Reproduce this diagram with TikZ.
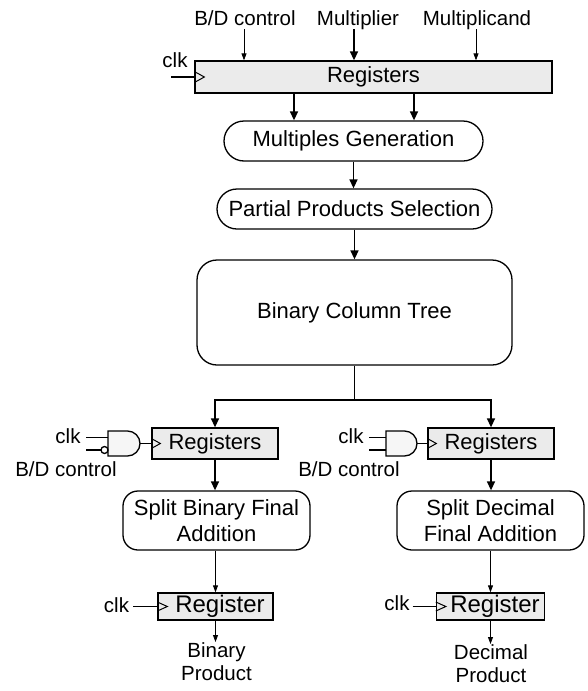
\documentclass[tikz,border=0pt]{standalone}
\usepackage{fontspec}
\setmainfont{Liberation Sans}
\usetikzlibrary{arrows.meta}
\definecolor{regfill}{HTML}{EBEBEB}
\definecolor{gatefill}{HTML}{F6F6F6}
\begin{document}
\begin{tikzpicture}[x=1pt,y=-1pt,
  font=\fontsize{22}{26}\selectfont,
  reg/.style={draw,line width=1.3pt,fill=regfill,inner sep=0pt},
  proc/.style={draw,line width=1.3pt,fill=white,inner sep=0pt,align=center},
  big/.style={line width=1.4pt,-{Triangle[length=9pt,width=8pt]}},
  small/.style={line width=0.8pt,-{Triangle[length=7pt,width=5pt]}},
  wire/.style={line width=1.3pt},
  lbl/.style={inner sep=0pt,align=center,font=\fontsize{20.5}{23}\selectfont},
  clock/.style={line width=1pt}]
\useasboundingbox (0,0) rectangle (588,691);

% ---- input stage ----
\node[lbl,anchor=base] (bdtop) at (245,25) {B/D control};
\node[lbl,anchor=base] (mplier) at (358,25) {Multiplier};
\node[lbl,anchor=base] (mcand) at (477,25) {Multiplicand};
\node[reg,minimum width=357,minimum height=32] (top) at (373.5,77) {Registers};
\node[lbl,anchor=base] (clktop) at (175,67) {clk};

\coordinate (bdin) at (244,29);
\coordinate (mpin) at (354,29);
\coordinate (mcin) at (476,29);
\coordinate (clkin) at (171,77);
\draw[small] (bdin) -- (bdin |- top.north);
\draw[big] (mpin) -- (mpin |- top.north);
\draw[small] (mcin) -- (mcin |- top.north);
\draw[wire] (clkin) -- (top.west);
\draw[clock] ([yshift=5.5]top.west) -- ([xshift=10]top.west) -- ([yshift=-5.5]top.west);

% ---- shared datapath ----
\node[proc,rounded corners=20,minimum width=259,minimum height=40] (mg) at (353.5,141) {Multiples Generation};
\node[proc,rounded corners=20,minimum width=275,minimum height=40] (pps) at (354.5,209) {Partial Products Selection};
\node[proc,rounded corners=20,minimum width=315,minimum height=105] (bct) at (354.5,312.5) {Binary Column Tree};

\draw[big] ([xshift=-79.5]top.south) -- ([xshift=-79.5]top.south |- mg.north);
\draw[big] ([xshift=40.5]top.south) -- ([xshift=40.5]top.south |- mg.north);
\draw[big] (mg.south) -- (mg.south |- pps.north);
\draw[big] (pps.south) -- (bct.north);

\coordinate (split) at (354.5,400);
\draw[wire] (bct.south) -- (split);

% ---- binary branch ----
\node[reg,minimum width=126,minimum height=31] (lreg) at (215,443.5) {Registers};
\node[proc,rounded corners=15,minimum width=187,minimum height=59] (sbfa) at (216.5,520.5) {Split Binary Final\\Addition};
\node[reg,minimum width=115,minimum height=27,font=\fontsize{24}{26}\selectfont] (lout) at (215.5,606.5) {\kern9pt Register};
\node[lbl,anchor=north] (binprod) at (216.5,642) {Binary\\Product};
\node[lbl,anchor=base] (lclk) at (68,443) {clk};
\node[lbl,anchor=base] (lbd) at (66,476) {B/D control};
\node[lbl,anchor=base] (lclk2) at (116.5,612) {clk};

\draw[big] (split) -| (lreg.north);
\draw[wire,fill=gatefill] (108,431) -- (127.5,431) arc[start angle=90,end angle=-90,radius=12.5pt] -- (108,456) -- cycle;
\draw[wire] (86,437.3) -- (108,437.3);
\draw[wire] (86,450) -- (101,450);
\draw[wire,fill=white] (104.5,450) circle[radius=3.5pt];
\coordinate (lgout) at (140,443.5);
\draw[wire] (lgout) -- (lreg.west);
\draw[clock] ([yshift=5]lreg.west) -- ([xshift=9]lreg.west) -- ([yshift=-5]lreg.west);
\draw[big] (lreg.south) -- (lreg.south |- sbfa.north);
\draw[small] (lout.north |- sbfa.south) -- (lout.north);
\coordinate (lclkin) at (133,606.5);
\draw[wire] (lclkin) -- (lout.west);
\draw[clock] ([yshift=4.5]lout.west) -- ([xshift=10]lout.west) -- ([yshift=-4.5]lout.west);
\draw[small] (lout.south) -- (lout.south |- binprod.north);

% ---- decimal branch ----
\node[reg,minimum width=126,minimum height=31] (rreg) at (491,443.5) {Registers};
\node[proc,rounded corners=15,minimum width=187,minimum height=59] (sdfa) at (490.5,520.5) {Split Decimal\\Final Addition};
\node[reg,minimum width=108,minimum height=27,font=\fontsize{24}{26}\selectfont] (rout) at (490.5,606.5) {\kern9pt Register};
\node[lbl,anchor=north] (decprod) at (491,644) {Decimal\\Product};
\node[lbl,anchor=base] (rclk) at (351,443) {clk};
\node[lbl,anchor=base] (rbd) at (349,476) {B/D control};
\node[lbl,anchor=base] (rclk2) at (397,610) {clk};

\draw[big] (split) -| (rreg.north);
\draw[wire,fill=gatefill] (386,431) -- (404.5,431) arc[start angle=90,end angle=-90,radius=12.5pt] -- (386,456) -- cycle;
\draw[wire] (369,437.3) -- (386,437.3);
\draw[wire] (369,450) -- (386,450);
\coordinate (rgout) at (417,443.5);
\draw[wire] (rgout) -- (rreg.west);
\draw[clock] ([yshift=5]rreg.west) -- ([xshift=9]rreg.west) -- ([yshift=-5]rreg.west);
\draw[big] (rreg.south) -- (rreg.south |- sdfa.north);
\draw[small] (rout.north |- sdfa.south) -- (rout.north);
\coordinate (rclkin) at (412.5,606.5);
\draw[wire] (rclkin) -- (rout.west);
\draw[clock] ([yshift=4.5]rout.west) -- ([xshift=10]rout.west) -- ([yshift=-4.5]rout.west);
\draw[small] (rout.south) -- (rout.south |- decprod.north);
\end{tikzpicture}
\end{document}
